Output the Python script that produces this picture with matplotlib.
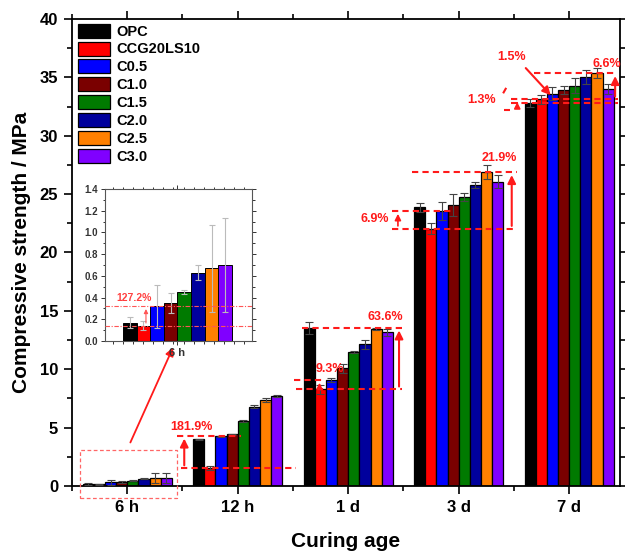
import numpy as np
import matplotlib
matplotlib.use('Agg')
import matplotlib.pyplot as plt
from matplotlib.patches import Rectangle
from matplotlib.ticker import MultipleLocator

plt.rcParams['font.family'] = ['Liberation Sans', 'DejaVu Sans']
plt.rcParams['font.weight'] = 'bold'

samples = ['OPC', 'CCG20LS10', 'C0.5', 'C1.0', 'C1.5', 'C2.0', 'C2.5', 'C3.0']
colors = ['#000000', '#FF0000', '#0000FF', '#7A0000', '#007A00', '#00009C', '#FF8000', '#8000FF']
ages = ['6 h', '12 h', '1 d', '3 d', '7 d']

# compressive strength (MPa) per curing age, one value per sample
h6 = [0.17, 0.14, 0.32, 0.35, 0.45, 0.63, 0.67, 0.70]
h12 = [4.0, 1.53, 4.25, 4.42, 5.57, 6.80, 7.35, 7.70]
d1 = [13.56, 8.28, 9.08, 10.08, 11.50, 12.14, 13.45, 13.16]
d3 = [23.87, 22.04, 23.55, 24.07, 24.73, 25.78, 26.87, 26.07]
d7 = [32.83, 33.12, 33.60, 33.89, 34.29, 35.06, 35.35, 34.00]

h6_err = [0.05, 0.04, 0.20, 0.09, 0.02, 0.07, 0.40, 0.43]
h12_err = [0.05, 0.15, 0.05, 0.05, 0.05, 0.10, 0.15, 0.08]
d1_err = [0.50, 0.40, 0.15, 0.40, 0.10, 0.38, 0.10, 0.30]
d3_err = [0.40, 0.47, 0.79, 0.91, 0.36, 0.23, 0.59, 0.53]
d7_err = [0.35, 0.40, 0.57, 0.35, 0.64, 0.60, 0.43, 0.39]

means = np.array([h6, h12, d1, d3, d7])
errs = np.array([h6_err, h12_err, d1_err, d3_err, d7_err])

red = '#FF1A1A'
x = np.arange(1, len(ages) + 1)
w = 0.101
offs = (np.arange(len(samples)) - 3.5) * w

fig = plt.figure(figsize=(6.25, 5.57), dpi=100)
ax = fig.add_axes([0.1152, 0.1275, 0.8768, 0.8384])

bars = []
for i, s in enumerate(samples):
    b = ax.bar(x + offs[i], means[:, i], w, color=colors[i], edgecolor='black',
               linewidth=0.9, label=s, zorder=2)
    ax.errorbar(x + offs[i], means[:, i], yerr=errs[:, i], fmt='none', ecolor='#444444',
                elinewidth=0.8, capsize=3, capthick=0.8, zorder=3)
    bars.append(b)

ax.set_xlim(0.5, 5.46)
ax.set_ylim(0, 40)
ax.set_xticks(x)
ax.set_xticklabels(ages)
ax.set_xticks(x - 0.5, minor=True)
ax.yaxis.set_major_locator(MultipleLocator(5))
ax.yaxis.set_minor_locator(MultipleLocator(2.5))
ax.tick_params(which='both', direction='out', top=True, right=True, width=1.2)
ax.tick_params(which='major', length=6, labelsize=12, pad=4)
ax.tick_params(which='minor', length=3.5)
for sp in ax.spines.values():
    sp.set_linewidth(1.3)
ax.set_ylabel('Compressive strength / MPa', fontsize=15, fontweight='bold', labelpad=6)
ax.set_xlabel('Curing age', fontsize=15, fontweight='bold', labelpad=12)

ax.legend(handles=bars, loc='upper left', bbox_to_anchor=(0.011, 0.99), frameon=False,
          fontsize=10.5, handlelength=2.2, handleheight=1.1, labelspacing=0.2,
          handletextpad=0.4, borderpad=0, borderaxespad=0)

dash = dict(color=red, lw=1.5, ls=(0, (3, 2)), zorder=4)
arr = dict(arrowstyle='-|>', color=red, lw=1.5, mutation_scale=12)
small_arr = dict(arrowstyle='-|>', color=red, lw=1.2, mutation_scale=9)

# 12 h
ax.plot([1.49, 2.53], [h12[1], h12[1]], **dash)
ax.plot([1.45, 2.03], [4.3, 4.3], **dash)
ax.annotate('', xy=(1.516, 4.3), xytext=(1.516, h12[1]), arrowprops=arr)
ax.text(1.58, 5.05, '181.9%', color=red, fontsize=9, fontweight='bold', ha='center', va='center')

# 1 d
ax.plot([2.584, 3.489], [d1[0], d1[0]], **dash)
ax.plot([2.53, 3.489], [d1[1], d1[1]], **dash)
ax.plot([2.51, 2.78], [d1[2], d1[2]], **dash)
ax.annotate('', xy=(3.46, d1[0]), xytext=(3.46, d1[1]), arrowprops=arr)
ax.annotate('', xy=(2.74, d1[2]), xytext=(2.74, d1[1]), arrowprops=small_arr)
ax.text(3.34, 14.5, '63.6%', color=red, fontsize=9, fontweight='bold', ha='center', va='center')
ax.text(2.83, 10.0, '9.3%', color=red, fontsize=9, fontweight='bold', ha='center', va='center')

# 3 d
ax.plot([3.58, 4.53], [d3[6], d3[6]], **dash)
ax.plot([3.40, 4.53], [d3[1], d3[1]], **dash)
ax.plot([3.40, 3.96], [d3[2], d3[2]], **dash)
ax.annotate('', xy=(4.48, d3[6]), xytext=(4.48, d3[1]), arrowprops=arr)
ax.annotate('', xy=(3.45, d3[2]), xytext=(3.45, d3[1]), arrowprops=small_arr)
ax.text(4.37, 28.1, '21.9%', color=red, fontsize=9, fontweight='bold', ha='center', va='center')
ax.text(3.24, 22.9, '6.9%', color=red, fontsize=9, fontweight='bold', ha='center', va='center')

# 7 d
ax.plot([4.68, 5.43], [d7[6], d7[6]], **dash)
ax.plot([4.475, 5.44], [d7[1], d7[1]], **dash)
ax.plot([4.475, 5.44], [d7[0], d7[0]], **dash)
ax.annotate('', xy=(5.416, d7[6]), xytext=(5.416, d7[1]), arrowprops=arr)
ax.annotate('', xy=(4.85, 33.3), xytext=(4.59, 35.97), arrowprops=arr)
ax.annotate('', xy=(4.53, d7[1]), xytext=(4.53, d7[0] - 0.3), arrowprops=small_arr)
ax.plot([4.43, 4.40], [34.1, 33.6], **dash)
ax.plot([4.41, 4.46], [32.2, 32.2], **dash)
ax.text(4.475, 36.75, '1.5%', color=red, fontsize=9, fontweight='bold', ha='center', va='center')
ax.text(5.34, 36.15, '6.6%', color=red, fontsize=9, fontweight='bold', ha='center', va='center')
ax.text(4.21, 33.06, '1.3%', color=red, fontsize=9, fontweight='bold', ha='center', va='center')

# dashed box around 6 h and pointer to the inset
ax.add_patch(Rectangle((0.575, -1.03), 0.875, 4.11, fill=False, ls=(0, (3, 2)),
                       ec='#FF6666', lw=0.9, clip_on=False, zorder=4))
ax.annotate('', xy=(1.425, 12.08), xytext=(1.018, 3.51),
            arrowprops=dict(arrowstyle='-|>', color=red, lw=1.3, mutation_scale=12))

# inset for 6 h
ins = fig.add_axes([0.168, 0.3878, 0.2352, 0.2729])
for i, s in enumerate(samples):
    ins.bar(1 + offs[i], h6[i], w, color=colors[i], edgecolor='black', linewidth=0.7, zorder=2)
    ins.errorbar(1 + offs[i], h6[i], yerr=h6_err[i], fmt='none', ecolor='#BBBBBB',
                 elinewidth=0.8, capsize=2, capthick=0.8, zorder=3)
ins.set_xlim(0.462, 1.553)
ins.set_ylim(0, 1.4)
ins.set_xticks([1])
ins.set_xticklabels(['6 h'])
ins.set_xticks(np.arange(0.52, 1.56, 0.075), minor=True)
ins.yaxis.set_major_locator(MultipleLocator(0.2))
ins.yaxis.set_minor_locator(MultipleLocator(0.1))
ins.tick_params(which='both', direction='out', top=True, right=True, width=0.7, colors='#333333')
ins.tick_params(which='major', length=3, labelsize=7, pad=2)
ins.tick_params(which='minor', length=1.8)
ins.tick_params(axis='x', labelsize=8)
for sp in ins.spines.values():
    sp.set_linewidth(0.8)
    sp.set_color('#555555')
ins_dash = dict(color='#FF5555', lw=0.8, ls=(0, (4, 1.5, 1, 1.5)), zorder=4)
ins.axhline(h6[1], **ins_dash)
ins.axhline(h6[2], **ins_dash)
ins.annotate('', xy=(0.766, h6[2]), xytext=(0.766, h6[1]),
             arrowprops=dict(arrowstyle='-|>', color='#FF5555', lw=0.8, mutation_scale=6))
ins.text(0.677, 0.40, '127.2%', color='#FF4040', fontsize=7.5, fontweight='bold',
         ha='center', va='center')

fig.savefig('out.png', dpi=100)
